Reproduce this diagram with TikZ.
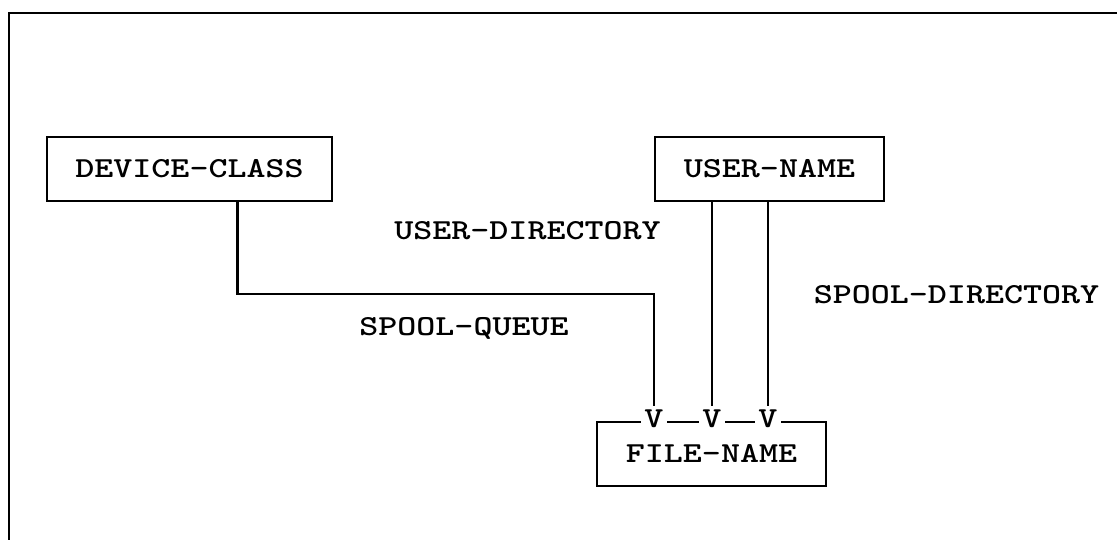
\documentclass[tikz,border=0pt]{standalone}
\usepackage{graphicx}
\usetikzlibrary{calc}

% typewriter lettering, widened to a Courier-like pitch
\newcommand{\tw}[1]{\scalebox{1.25}[1]{\fontsize{29}{30}\selectfont\ttfamily\bfseries #1}}

\tikzset{
  txt/.style={inner sep=0pt, text height=17.7pt, text depth=0pt,
              font=\fontsize{29}{30}\selectfont},
  entity/.style={txt, draw, line width=2.3pt, minimum height=64pt},
  vmark/.style={txt, fill=white, inner xsep=3pt, inner ysep=4pt},
  link/.style={line width=2.3pt},
  frame/.style={line width=2.5pt}
}

\begin{document}
\begin{tikzpicture}[x=1pt, y=-1pt]
  \useasboundingbox (0,0) rectangle (1117,540);
  \fill[white] (0,0) rectangle (1117,540);

  % enclosing frame (top and left edges)
  \coordinate (fr) at (1117,13);
  \coordinate (fc) at (9,13);
  \coordinate (fb) at (9,540);
  \draw[frame] (fr) -- (fc) -- (fb);

  % record types
  \node[entity, minimum width=285pt] (dc) at (189.5,169) {\tw{DEVICE-CLASS}};
  \node[entity, minimum width=229pt] (un) at (769.5,169) {\tw{USER-NAME}};
  \node[entity, minimum width=229pt] (fn) at (711.5,454) {\tw{FILE-NAME}};

  % set member markers on the top edge of FILE-NAME
  \node[vmark] (v1) at (654,419) {\tw{V}};
  \node[vmark] (v2) at (712,419) {\tw{V}};
  \node[vmark] (v3) at (768,419) {\tw{V}};

  % set connectors
  \coordinate (dcout) at ($(dc.south west)!0.667!(dc.south east)$);
  \coordinate (bend1) at ($(dcout)+(0,92)$);
  \draw[link] (dcout) -- (bend1) -- (bend1 -| v1.north) -- (v1.north);
  \draw[link] (v2.north |- un.south) -- (v2.north);
  \draw[link] (v3.north |- un.south) -- (v3.north);

  % set names
  \node[txt] (l1) at (527.5,231) {\tw{USER-DIRECTORY}};
  \node[txt] (l2) at (956.5,295) {\tw{SPOOL-DIRECTORY}};
  \node[txt] (l3) at (464,327) {\tw{SPOOL-QUEUE}};
\end{tikzpicture}
\end{document}
